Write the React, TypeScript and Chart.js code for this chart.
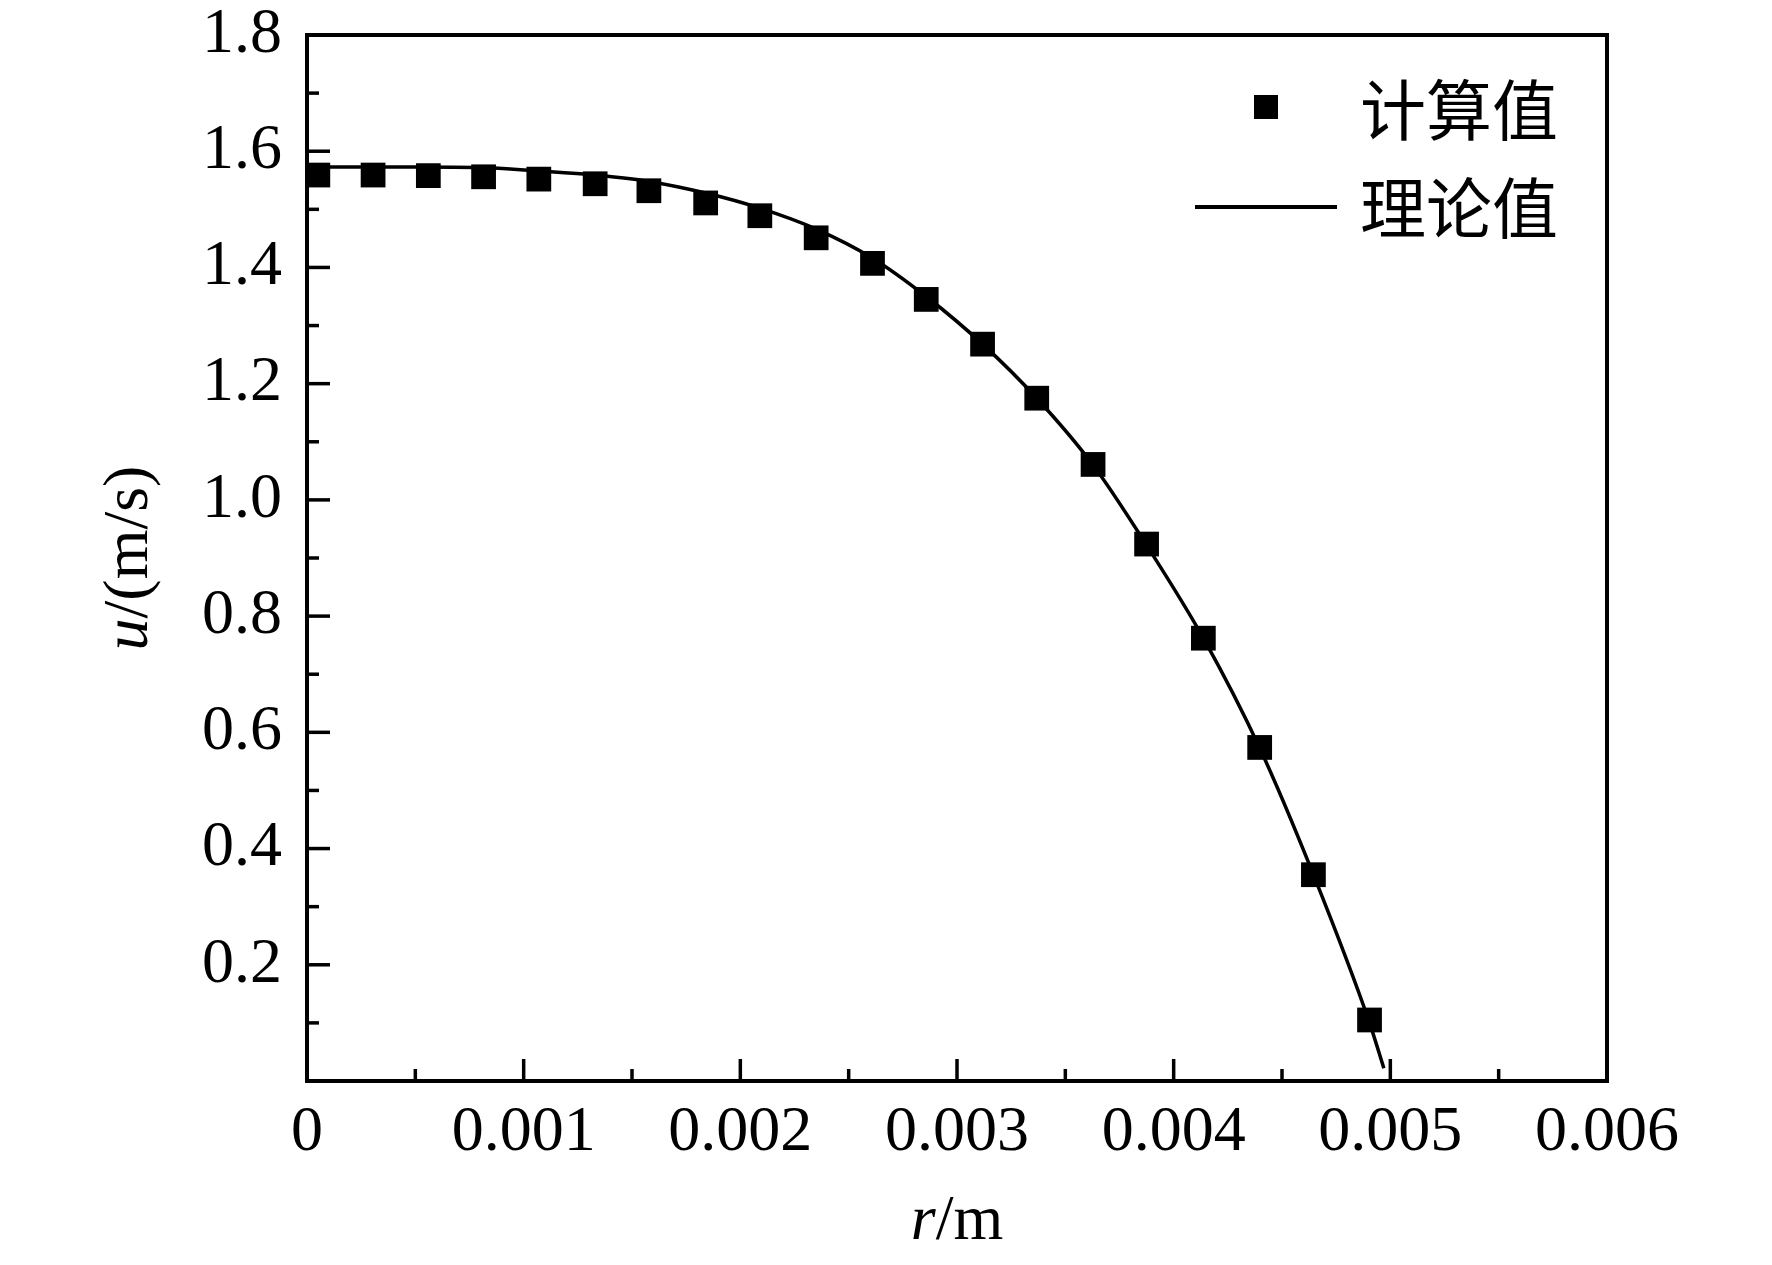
import { useEffect, useRef } from "react";
import { Chart, registerables, type Plugin } from "chart.js";

Chart.register(...registerables);

// ── data ────────────────────────────────────────────────────────────────
const R_CALC = [
  0.00005, 0.000305, 0.00056, 0.000815, 0.00107, 0.00133, 0.001578, 0.00184,
  0.00209, 0.00235, 0.00261, 0.002858, 0.003118, 0.003368, 0.003628, 0.003875,
  0.004137, 0.004397, 0.004645, 0.004904,
];
const U_CALC = [
  1.559, 1.559, 1.558, 1.556, 1.552, 1.544, 1.532, 1.511,
  1.489, 1.451, 1.407, 1.345, 1.268, 1.175, 1.061, 0.924,
  0.762, 0.574, 0.355, 0.105,
];
const R_THEORY = [
  0, 0.00025, 0.0005, 0.0008, 0.00107, 0.00133, 0.001578, 0.00184,
  0.00209, 0.00235, 0.00261, 0.002858, 0.003118, 0.003368, 0.003628, 0.003875,
  0.004137, 0.004397, 0.004645, 0.004904, 0.00497,
];
const U_THEORY = [
  1.573, 1.573, 1.573, 1.572, 1.566, 1.559, 1.548, 1.528,
  1.502, 1.466, 1.416, 1.35, 1.268, 1.175, 1.06, 0.922,
  0.762, 0.573, 0.355, 0.1, 0.022,
];
const X_TICK_LABELS = ["0", "0.001", "0.002", "0.003", "0.004", "0.005", "0.006"];
const Y_TICK_LABELS = ["", "0.2", "0.4", "0.6", "0.8", "1.0", "1.2", "1.4", "1.6", "1.8"];
const LEGEND_LABELS = ["计算值", "理论值"];

const W = 1772;
const H = 1265;
const AREA = { left: 307, top: 35, right: 1607, bottom: 1081 };
const SERIF = '"Liberation Serif", "Times New Roman", serif';
const CJK = '"Noto Sans CJK SC", sans-serif';

// draws the frame with inward ticks
const framePlugin: Plugin = {
  id: "frame",
  beforeDatasetsDraw(chart) {
    const { ctx, chartArea: a } = chart;
    const xs = chart.scales.x;
    const ys = chart.scales.y;
    ctx.save();
    ctx.strokeStyle = "#000";
    ctx.lineWidth = 3.5;
    const xt = xs.ticks.map((t) => t.value);
    xt.forEach((v, i) => {
      const px = xs.getPixelForValue(v);
      ctx.beginPath(); ctx.moveTo(px, a.bottom); ctx.lineTo(px, a.bottom - 22); ctx.stroke();
      if (i < xt.length - 1) {
        const m = xs.getPixelForValue((v + xt[i + 1]) / 2);
        ctx.beginPath(); ctx.moveTo(m, a.bottom); ctx.lineTo(m, a.bottom - 12); ctx.stroke();
      }
    });
    const yt = ys.ticks.map((t) => t.value);
    yt.forEach((v, i) => {
      const py = ys.getPixelForValue(v);
      ctx.beginPath(); ctx.moveTo(a.left, py); ctx.lineTo(a.left + 23, py); ctx.stroke();
      if (i < yt.length - 1) {
        const m = ys.getPixelForValue((v + yt[i + 1]) / 2);
        ctx.beginPath(); ctx.moveTo(a.left, m); ctx.lineTo(a.left + 12, m); ctx.stroke();
      }
    });
    ctx.lineWidth = 4;
    ctx.strokeRect(a.left, a.top, a.right - a.left, a.bottom - a.top);
    ctx.restore();
  },
};

// mixed italic / upright text, centred on (0,0) of the current transform
function drawMixed(ctx: CanvasRenderingContext2D, parts: [string, boolean][], size: number) {
  const fontOf = (it: boolean) => `${it ? "italic " : ""}${size}px ${SERIF}`;
  let total = 0;
  parts.forEach(([t, it]) => { ctx.font = fontOf(it); total += ctx.measureText(t).width; });
  let x = -total / 2;
  ctx.textAlign = "left";
  ctx.textBaseline = "middle";
  parts.forEach(([t, it]) => {
    ctx.font = fontOf(it);
    ctx.fillText(t, x, 0);
    x += ctx.measureText(t).width;
  });
}

const decorPlugin: Plugin = {
  id: "decor",
  afterDraw(chart) {
    const { ctx, chartArea: a } = chart;
    ctx.save();
    ctx.fillStyle = "#000";
    ctx.strokeStyle = "#000";

    // axis titles
    ctx.save();
    ctx.translate((a.left + a.right) / 2, 1222);
    drawMixed(ctx, [["r", true], ["/m", false]], 64);
    ctx.restore();
    ctx.save();
    ctx.translate(130, (a.top + a.bottom) / 2);
    ctx.rotate(-Math.PI / 2);
    drawMixed(ctx, [["u", true], ["/(m/s)", false]], 64);
    ctx.restore();

    // legend
    ctx.fillRect(1266 - 12, 107 - 12, 24, 24);
    ctx.lineWidth = 4;
    ctx.beginPath(); ctx.moveTo(1195, 207); ctx.lineTo(1337, 207); ctx.stroke();
    ctx.font = `66px ${CJK}`;
    ctx.textAlign = "left";
    ctx.textBaseline = "middle";
    ctx.fillText(LEGEND_LABELS[0], 1360, 110);
    ctx.fillText(LEGEND_LABELS[1], 1360, 208);
    ctx.restore();
  },
};

export default function App() {
  const ref = useRef<HTMLCanvasElement>(null);

  useEffect(() => {
    document.body.style.margin = "0";
    if (!ref.current) return;
    const chart = new Chart(ref.current, {
      type: "line",
      data: {
        datasets: [
          {
            label: LEGEND_LABELS[0],
            data: R_CALC.map((r, i) => ({ x: r, y: U_CALC[i] })),
            showLine: false,
            pointStyle: "rect",
            pointRadius: 17.5,
            pointBackgroundColor: "#000",
            pointBorderWidth: 0,
            borderColor: "#000",
            clip: false as any,
            order: 0,
          },
          {
            label: LEGEND_LABELS[1],
            data: R_THEORY.map((r, i) => ({ x: r, y: U_THEORY[i] })),
            borderColor: "#000",
            borderWidth: 3.5,
            pointRadius: 0,
            cubicInterpolationMode: "monotone",
            fill: false,
            clip: false as any,
            order: 1,
          },
        ],
      },
      options: {
        responsive: false,
        devicePixelRatio: 1,
        animation: false,
        layout: { padding: { left: 0, top: AREA.top, right: W - AREA.right, bottom: 0 } },
        plugins: { legend: { display: false }, tooltip: { enabled: false } },
        scales: {
          x: {
            type: "linear",
            min: 0,
            max: 0.006,
            afterFit: (s) => { s.height = H - AREA.bottom; },
            grid: { display: false, drawTicks: false },
            border: { display: false },
            ticks: {
              stepSize: 0.001,
              autoSkip: false,
              maxRotation: 0,
              padding: 20,
              color: "#000",
              font: { family: SERIF, size: 64, lineHeight: 1 },
              callback: (_v, i) => X_TICK_LABELS[i] ?? "",
            },
          },
          y: {
            type: "linear",
            min: 0,
            max: 1.8,
            afterFit: (s) => { s.width = AREA.left; },
            grid: { display: false, drawTicks: false },
            border: { display: false },
            ticks: {
              stepSize: 0.2,
              autoSkip: false,
              padding: 25,
              color: "#000",
              // small line height keeps the top label from pushing the plot down
              font: { family: SERIF, size: 64, lineHeight: 0.15 },
              callback: (_v, i) => Y_TICK_LABELS[i] ?? "",
            },
          },
        },
      },
      plugins: [framePlugin, decorPlugin],
    });
    return () => { chart.destroy(); };
  }, []);

  return (
    <div style={{ width: W, height: H, background: "#fff" }}>
      <canvas ref={ref} width={W} height={H} />
    </div>
  );
}
